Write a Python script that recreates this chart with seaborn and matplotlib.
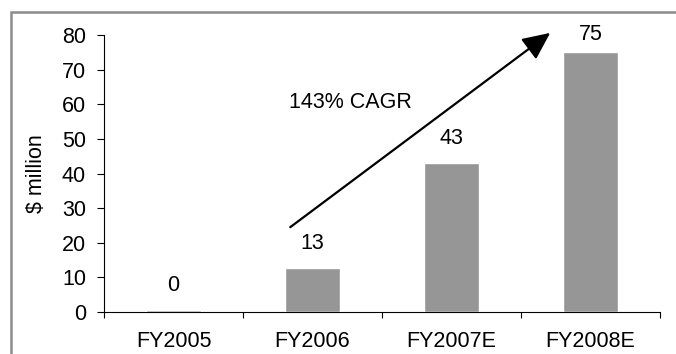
import matplotlib
matplotlib.use("Agg")
import matplotlib.pyplot as plt
import seaborn as sns
import pandas as pd
from matplotlib.patches import Rectangle

categories = ["FY2005", "FY2006", "FY2007E", "FY2008E"]
values = [0.5, 12.6, 43.0, 75.0]
value_labels = ["0", "13", "43", "75"]
y_ticks = [0, 10, 20, 30, 40, 50, 60, 70, 80]
cagr_text = "143% CAGR"

sns.set_theme(style="white")
plt.rcParams["font.family"] = ["Liberation Sans", "DejaVu Sans"]

FS = 15.5
df = pd.DataFrame({"cat": categories, "val": values})

fig = plt.figure(figsize=(6.76, 3.54), dpi=100)
ax = fig.add_axes([104/676, 1-312/354, 556/676, (312-35)/354])

sns.barplot(data=df, x="cat", y="val", color="#969696", width=0.40,
            saturation=1, ax=ax)

ax.set_xlim(-0.5, 3.5)
ax.set_ylim(0, 80)
ax.set_yticks(y_ticks)
ax.set_yticklabels([str(t) for t in y_ticks], fontsize=FS, color="black")
ax.set_xlabel("")
ax.set_ylabel(r"\$ million", fontsize=FS, color="black")
ax.yaxis.set_label_coords((37 - 104) / 556, 0.5)
ax.yaxis.label.set_va("center")

ax.set_xticks(range(len(categories)))
ax.set_xticklabels(categories, fontsize=FS, color="black")
ax.set_xticks([i - 0.5 for i in range(len(categories) + 1)], minor=True)
ax.tick_params(axis="x", which="major", length=0, pad=13.5)
ax.tick_params(axis="x", which="minor", length=4.5, width=0.8, color="black",
               direction="out", bottom=True)
ax.tick_params(axis="y", which="major", length=5, width=0.8, color="black",
               direction="out", left=True, pad=8)

for s in ["top", "right"]:
    ax.spines[s].set_visible(False)
for s in ["left", "bottom"]:
    ax.spines[s].set_color("black")
    ax.spines[s].set_linewidth(0.8)
    ax.spines[s].set_zorder(0.5)

for i, (v, lab) in enumerate(zip(values, value_labels)):
    ax.text(i, min(v + 7.2, 80), lab, ha="center", va="center",
            fontsize=FS, color="black")

ax.annotate("", xy=(2.71, 80.6), xytext=(0.84, 24.5),
            arrowprops=dict(arrowstyle="-|>,head_length=1.4,head_width=0.65",
                            color="black", lw=1.6, shrinkA=0, shrinkB=0),
            annotation_clip=False)
ax.text(1.27, 60.4, cagr_text, ha="center", va="center", fontsize=FS,
        color="black")

# outer grey frame (partially visible)
fig.patches.append(Rectangle((11/676, -0.2), 1.0, 1.2 - 12/354,
                             transform=fig.transFigure, fill=False,
                             edgecolor="#8c8c8c", linewidth=1.8))

fig.savefig("out.png", dpi=100)
